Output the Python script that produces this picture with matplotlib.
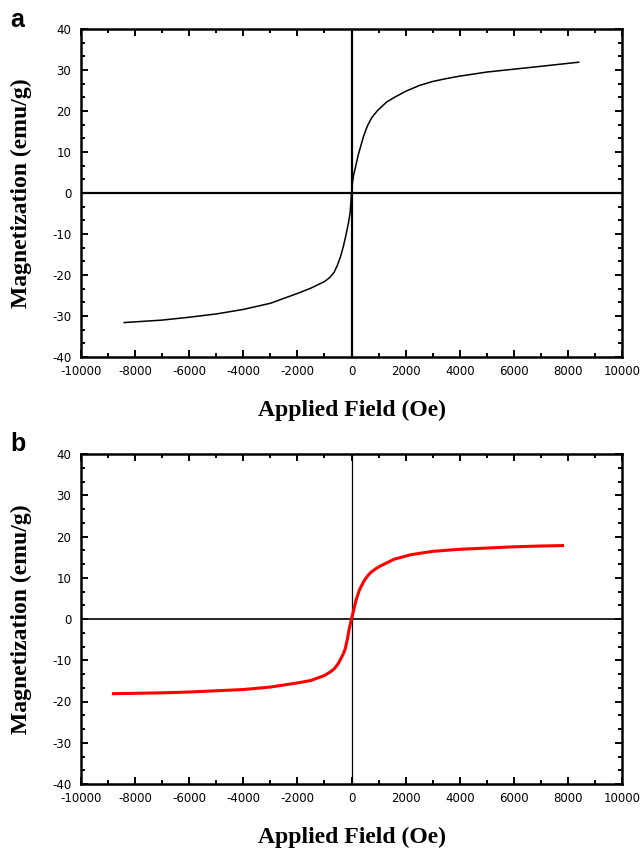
"""Magnetization hysteresis curves, panels a and b."""

import matplotlib

matplotlib.use("Agg")
import matplotlib.pyplot as plt
from matplotlib.ticker import AutoMinorLocator, MultipleLocator

# panel a: field (Oe) and magnetization (emu/g)
FIELD_A = [-8400, -7000, -6000, -5000, -4000, -3000, -2000, -1500, -1000, -800,
           -640, -520, -400, -300, -210, -110, -50, 0, 37, 74, 160, 250, 345,
           450, 590, 750, 960, 1300, 1580, 2000, 2500, 3000, 3500, 4000, 5000,
           6000, 7000, 8400]
MAG_A = [-31.6, -31.0, -30.3, -29.5, -28.4, -26.9, -24.5, -23.2, -21.6, -20.6,
         -19.3, -17.6, -15.4, -13.0, -10.4, -7.2, -4.7, 0.0, 2.6, 4.2, 6.7, 9.3,
         11.5, 13.9, 16.4, 18.4, 20.1, 22.2, 23.3, 24.8, 26.2, 27.2, 27.9, 28.5,
         29.5, 30.2, 30.9, 31.9]

# panel b
FIELD_B = [-8800, -7000, -6000, -5000, -4000, -3000, -2000, -1500, -1000, -800,
           -640, -500, -400, -300, -235, -150, -85, 0, 75, 160, 285, 380, 470,
           590, 715, 900, 1080, 1580, 2200, 3000, 4000, 5000, 6000, 7000, 7800]
MAG_B = [-18.1, -17.9, -17.7, -17.4, -17.1, -16.5, -15.5, -14.9, -13.7, -12.9,
         -12.1, -10.9, -9.7, -8.4, -7.3, -4.8, -2.4, 0.0, 2.0, 4.4, 6.9, 8.2, 9.3,
         10.4, 11.3, 12.2, 12.9, 14.5, 15.6, 16.4, 16.9, 17.2, 17.5, 17.7, 17.8]

W, H = 644, 851
SERIF = ["Liberation Serif", "DejaVu Serif"]
SANS = ["Liberation Sans", "DejaVu Sans"]

plt.rcParams["axes.unicode_minus"] = False


def style_axes(ax, hline_lw, vline_lw, label_y):
    ax.set_xlim(-10000, 10000)
    ax.set_ylim(-40, 40)
    ax.xaxis.set_major_locator(MultipleLocator(2000))
    ax.xaxis.set_minor_locator(AutoMinorLocator(2))
    ax.yaxis.set_major_locator(MultipleLocator(10))
    ax.yaxis.set_minor_locator(AutoMinorLocator(3))
    ax.tick_params(which="both", direction="in", top=True, right=True,
                   width=1.4, labelsize=8.5)
    ax.tick_params(axis="x", pad=6)
    ax.tick_params(axis="y", pad=7)
    ax.tick_params(which="major", length=5)
    ax.tick_params(which="minor", length=3)
    for lab in ax.get_xticklabels() + ax.get_yticklabels():
        lab.set_family("DejaVu Sans")
    for sp in ax.spines.values():
        sp.set_linewidth(1.8)
    ax.axhline(0, color="black", lw=hline_lw, zorder=1)
    ax.axvline(0, color="black", lw=vline_lw, zorder=1)
    ax.set_xlabel("Applied Field (Oe)", family=SERIF, fontweight="bold",
                  fontsize=17, va="center")
    ax.set_ylabel("Magnetization (emu/g)", family=SERIF, fontweight="bold",
                  fontsize=17, va="center")
    ax.xaxis.set_label_coords(0.5, label_y)
    ax.yaxis.set_label_coords(-60 / 541, 0.5)


fig = plt.figure(figsize=(W / 100, H / 100), dpi=100)

ax_a = fig.add_axes([81 / W, (H - 357) / H, 541 / W, 328 / H])
style_axes(ax_a, 1.6, 1.6, -53 / 328)
ax_a.plot(FIELD_A, MAG_A, color="black", lw=1.1, zorder=3)

ax_b = fig.add_axes([81 / W, (H - 784) / H, 541 / W, 330 / H])
style_axes(ax_b, 1.2, 0.9, -53 / 330)
ax_b.plot(FIELD_B, MAG_B, color="red", lw=2.2, zorder=3)

fig.text(10 / W, 1 - 20 / H, "a", family=SANS, fontweight="bold",
         fontsize=18, va="center")
fig.text(10 / W, 1 - 444 / H, "b", family=SANS, fontweight="bold",
         fontsize=18, va="center")

fig.savefig("out.png", dpi=100)
